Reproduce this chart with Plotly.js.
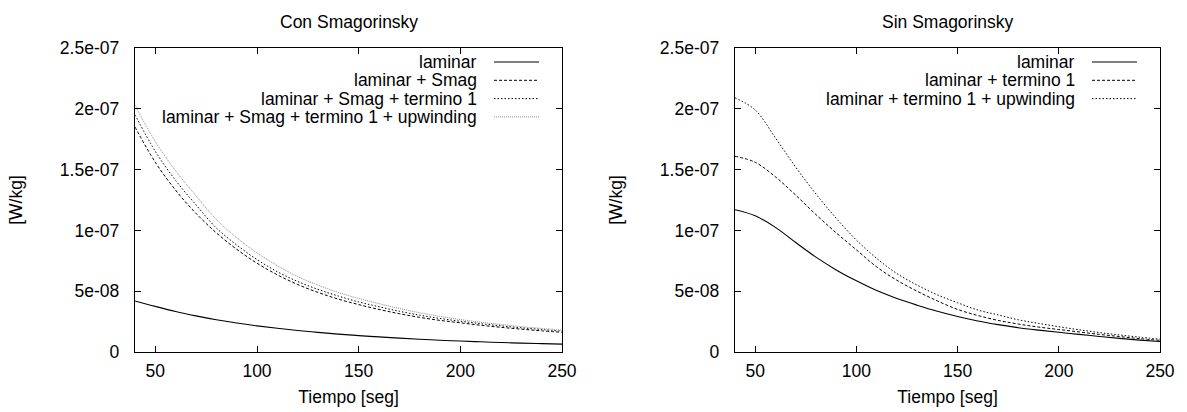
<!DOCTYPE html>
<html>
<head>
<meta charset="utf-8">
<script src="https://cdn.plot.ly/plotly-3.0.1.min.js"></script>
<style>html,body{margin:0;padding:0;background:#fff;}#chart{width:1187px;height:412px;}</style>
</head>
<body>
<div id="chart"></div>
<script>
// Time axis (seconds)
const tiempo = [40,50,60,70,80,90,100,110,120,130,140,150,160,170,180,190,200,210,220,230,240,250];

// Left panel: "Con Smagorinsky" (values in units of 1e-8 W/kg)
const conLaminar = [4.2,3.75,3.33,2.97,2.65,2.38,2.15,1.95,1.77,1.61,1.47,1.35,1.24,1.14,1.05,0.97,0.9,0.84,0.78,0.73,0.69,0.65];
const conSmag = [18.5,15.6,13.3,11.4,9.8,8.45,7.3,6.35,5.55,4.9,4.35,3.9,3.5,3.15,2.85,2.6,2.4,2.2,2.03,1.88,1.74,1.62];
const conTermino = [19.5,16.5,14.1,12.1,10.2,8.8,7.6,6.6,5.8,5.15,4.6,4.12,3.72,3.35,3.03,2.76,2.53,2.33,2.15,1.99,1.85,1.72];
const conUpwind = [20.3,17.3,14.9,12.85,10.9,9.4,8.15,7.1,6.2,5.5,4.9,4.4,3.98,3.58,3.23,2.93,2.67,2.45,2.26,2.09,1.94,1.8];

// Right panel: "Sin Smagorinsky"
const sinLaminar = [11.7,11.2,10.25,9.0,7.8,6.75,5.85,5.05,4.4,3.85,3.35,2.92,2.55,2.25,2.0,1.8,1.62,1.45,1.28,1.12,0.98,0.86];
const sinTermino = [16.1,15.6,14.4,12.9,11.3,9.8,8.4,7.0,5.9,5.0,4.2,3.5,3.0,2.6,2.3,2.05,1.85,1.65,1.45,1.27,1.1,0.96];
const sinUpwind = [20.9,19.9,17.6,15.2,13.0,11.0,9.2,7.7,6.45,5.5,4.7,4.05,3.45,3.05,2.65,2.35,2.08,1.83,1.6,1.4,1.22,1.06];

const SCALE = 1e-8;

// Tick labels
const yTickVals = [0,5e-8,1e-7,1.5e-7,2e-7,2.5e-7];
const yTickText = ["0","5e-08","1e-07","1.5e-07","2e-07","2.5e-07"];
const xTickVals = [50,100,150,200,250];
const xTickText = ["50","100","150","200","250"];

const legendCon = ["laminar","laminar + Smag","laminar + Smag + termino 1","laminar + Smag + termino 1 + upwinding"];
const legendSin = ["laminar","laminar + termino 1","laminar + termino 1 + upwinding"];

const FONT = "Liberation Sans, Arial, sans-serif";
const FS = 17.5;
const styles = {
  solid:  {color:"#000", width:1.1, dash:"solid"},
  dashed: {color:"#000", width:1, dash:"3px,2px"},
  dotted: {color:"#000", width:1, dash:"1.5px,2px"},
  fine:   {color:"#8a8a8a", width:1, dash:"1px,1px"}
};

function tr(y, st, xa, ya, name){
  return {x:tiempo, y:y.map(v=>v*SCALE), mode:"lines", name:name, xaxis:xa, yaxis:ya,
          line:Object.assign({shape:"spline", smoothing:1}, st), showlegend:false, hoverinfo:"skip"};
}

const data = [
  tr(conLaminar, styles.solid, "x","y", legendCon[0]),
  tr(conSmag, styles.dashed, "x","y", legendCon[1]),
  tr(conTermino, styles.dotted, "x","y", legendCon[2]),
  tr(conUpwind, styles.fine, "x","y", legendCon[3]),
  tr(sinLaminar, styles.solid, "x2","y2", legendSin[0]),
  tr(sinTermino, styles.dashed, "x2","y2", legendSin[1]),
  tr(sinUpwind, styles.dotted, "x2","y2", legendSin[2])
];

const W = 1187, H = 412;
const frameL = [135, 562], frameR = [735, 1160], frameY = [48, 352];
const px = v => v / W, py = v => 1 - v / H;

function xax(dom, anchor){
  return {domain:dom, anchor:anchor, range:[40,250], tickvals:xTickVals, ticktext:xTickText,
    ticks:"inside", ticklen:6, tickcolor:"#000", tickwidth:1, mirror:"ticks",
    showline:true, linecolor:"#000", linewidth:1.3, showgrid:false, zeroline:false,
    tickfont:{family:FONT, size:FS, color:"#000"}, ticklabelstandoff:3,
    title:{text:"Tiempo [seg]", font:{family:FONT, size:FS, color:"#000"}, standoff:10}};
}
function yax(anchor){
  return {domain:[py(frameY[1]), py(frameY[0])], range:[0,2.5e-7], anchor:anchor,
    tickvals:yTickVals, ticktext:yTickText,
    ticks:"inside", ticklen:6, tickcolor:"#000", tickwidth:1, mirror:"ticks",
    showline:true, linecolor:"#000", linewidth:1.3, showgrid:false, zeroline:false,
    tickfont:{family:FONT, size:FS, color:"#000"}, ticklabelstandoff:11,
    title:{text:"[W/kg]", font:{family:FONT, size:FS, color:"#000"}, standoff:32}};
}

const annotations = [];
const shapes = [];
function legend(labels, stylesList, frame){
  const textRight = frame[1] - 83, lineStart = frame[1] - 68, lineEnd = frame[1] - 23;
  labels.forEach((lab, i) => {
    const yy = 62 + i * 18.3;
    annotations.push({xref:"paper", yref:"paper", x:px(textRight), y:py(yy), xanchor:"right", yanchor:"middle",
      text:lab, showarrow:false, font:{family:FONT, size:FS, color:"#000"}});
    const st = stylesList[i];
    shapes.push({type:"line", xref:"paper", yref:"paper", x0:px(lineStart), x1:px(lineEnd), y0:py(yy), y1:py(yy),
      line:{color:st.color, width:st.width, dash:st.dash}});
  });
}
legend(legendCon, [styles.solid, styles.dashed, styles.dotted, styles.fine], frameL);
legend(legendSin, [styles.solid, styles.dashed, styles.dotted], frameR);

annotations.push({xref:"paper", yref:"paper", x:px((frameL[0]+frameL[1])/2), y:py(22), xanchor:"center", yanchor:"middle",
  text:"Con Smagorinsky", showarrow:false, font:{family:FONT, size:FS, color:"#000"}});
annotations.push({xref:"paper", yref:"paper", x:px((frameR[0]+frameR[1])/2), y:py(22), xanchor:"center", yanchor:"middle",
  text:"Sin Smagorinsky", showarrow:false, font:{family:FONT, size:FS, color:"#000"}});

const layout = {
  width:W, height:H, margin:{l:0, r:0, t:0, b:0},
  paper_bgcolor:"#fff", plot_bgcolor:"#fff", showlegend:false,
  xaxis:xax([px(frameL[0]), px(frameL[1])], "y"),
  yaxis:yax("x"),
  xaxis2:xax([px(frameR[0]), px(frameR[1])], "y2"),
  yaxis2:yax("x2"),
  annotations:annotations, shapes:shapes
};

Plotly.newPlot("chart", data, layout, {staticPlot:true, displayModeBar:false});
</script>
</body>
</html>
